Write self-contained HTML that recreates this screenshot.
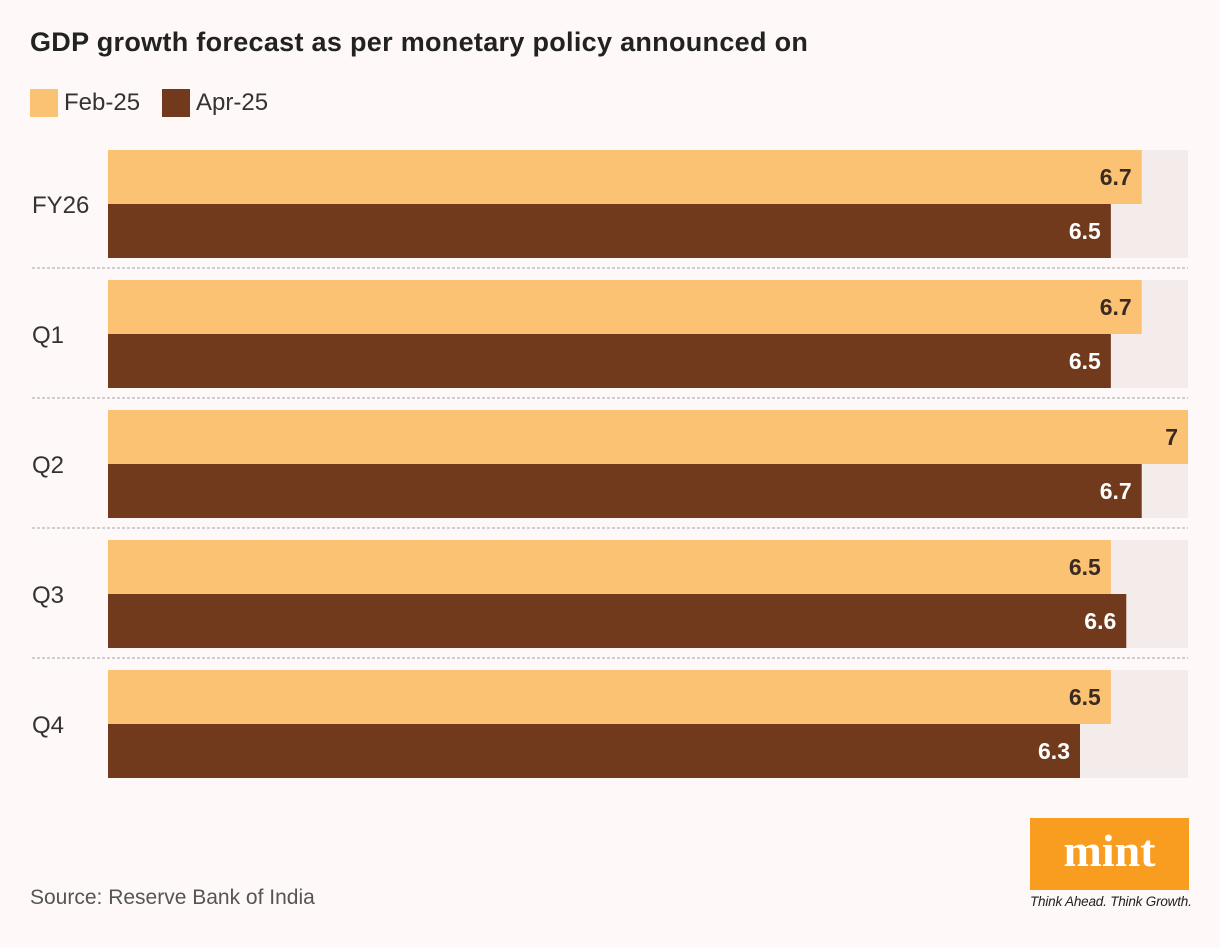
<!DOCTYPE html>
<html><head><meta charset="utf-8"><style>
body{margin:0;background:#fef9f8;font-family:"Liberation Sans",sans-serif;}
#c{position:relative;width:1220px;height:948px;overflow:hidden;background:#fef9f8;}
.t{position:absolute;white-space:nowrap;}
</style></head><body>
<div id="c">
<div class="t" style="left:30px;top:27px;font-size:27px;font-weight:bold;color:#222;letter-spacing:0.3px">GDP growth forecast as per monetary policy announced on</div>
<div style="position:absolute;left:30px;top:89px;width:28px;height:28px;background:#fbc273"></div>
<div class="t" style="left:64px;top:89px;font-size:24px;color:#333">Feb-25</div>
<div style="position:absolute;left:162px;top:89px;width:28px;height:28px;background:#723a1d"></div>
<div class="t" style="left:196px;top:89px;font-size:24px;color:#333">Apr-25</div>
<svg id="s" width="1220" height="948" style="position:absolute;left:0;top:0"></svg>
<div class="t" style="left:30px;top:886px;font-size:21px;color:#555">Source: Reserve Bank of India</div>
<div style="position:absolute;left:1030px;top:818px;width:159px;height:72px;background:#f89d1f;color:#fff;font-family:'Liberation Serif',serif;font-weight:bold;font-size:46px;text-align:center;line-height:66px">mint</div>
<div class="t" style="left:1030px;top:894px;font-size:13.5px;font-style:italic;color:#222;letter-spacing:-0.2px">Think Ahead. Think Growth.</div>
</div>
<script>
const categories=["FY26","Q1","Q2","Q3","Q4"];
const feb=[6.7,6.7,7,6.5,6.5];
const apr=[6.5,6.5,6.7,6.6,6.3];
const maxV=7;
const ns="http://www.w3.org/2000/svg";
const s=document.getElementById('s');
const x0=108,x1=1188,y0=150,pitch=130,bh=54;
const xs=v=>(v/maxV)*(x1-x0);
function el(t,a){const e=document.createElementNS(ns,t);for(const k in a)e.setAttribute(k,a[k]);s.appendChild(e);return e;}
categories.forEach((c,i)=>{
  const y=y0+i*pitch;
  const tr=el('rect',{x:x0,y:y,width:x1-x0,height:2*bh,fill:'#f3ecea'});
  
  
  const b1=el('rect',{x:x0,y:y,width:xs(feb[i]),height:bh,fill:'#fbc273'});
  
  
  const b2=el('rect',{x:x0,y:y+bh,width:xs(apr[i]),height:bh,fill:'#723a1d'});
  
  
  const l1=el('text',{x:x0+xs(feb[i])-10,y:y+bh/2+8,'text-anchor':'end','font-size':23,'font-weight':'bold',fill:'#3a2a22','font-family':'Liberation Sans,sans-serif'});
  l1.textContent=feb[i];
  
  
  const l2=el('text',{x:x0+xs(apr[i])-10,y:y+bh*1.5+8,'text-anchor':'end','font-size':23,'font-weight':'bold',fill:'#fff','font-family':'Liberation Sans,sans-serif'});
  l2.textContent=apr[i];
  
  
  const cl=el('text',{x:32,y:y+bh+9,'font-size':24,fill:'#333','font-family':'Liberation Sans,sans-serif'});
  cl.textContent=c;
  
  
  if(i<categories.length-1){
    const ln=el('line',{x1:32,x2:x1,y1:y+2*bh+10,y2:y+2*bh+10,stroke:'#cfcfcf','stroke-width':2,'stroke-dasharray':'3,2'});
    
    
  }
});
</script>
</body></html>
